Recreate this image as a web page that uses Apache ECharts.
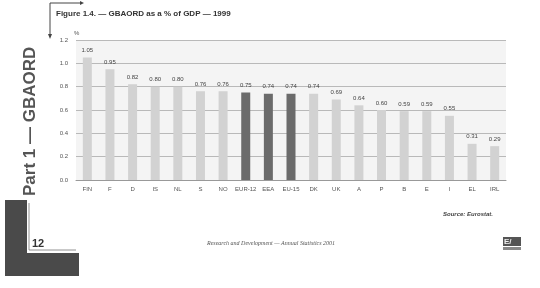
<!DOCTYPE html>
<html lang="en">
<head>
<meta charset="UTF-8">
<title>GBAORD as a % of GDP — 1999</title>
<script src="https://cdn.jsdelivr.net/npm/echarts@6/dist/echarts.min.js"></script>
<style>
  html, body { margin: 0; padding: 0; background: #fff; }
  #main { width: 540px; height: 288px; }
</style>
</head>
<body>
<div id="main"></div>
<script>
// categories and values
var countries = ['FIN', 'F', 'D', 'IS', 'NL', 'S', 'NO', 'EUR-12', 'EEA', 'EU-15',
                 'DK', 'UK', 'A', 'P', 'B', 'E', 'I', 'EL', 'IRL'];
var gbaord = [1.05, 0.95, 0.82, 0.80, 0.80, 0.76, 0.76, 0.75, 0.74, 0.74,
              0.74, 0.69, 0.64, 0.60, 0.59, 0.59, 0.55, 0.31, 0.29];
// aggregates drawn in dark grey
var aggregates = ['EUR-12', 'EEA', 'EU-15'];
var yTicks = [0, 0.2, 0.4, 0.6, 0.8, 1.0, 1.2];

var myChart = echarts.init(document.getElementById('main'));

var barData = gbaord.map(function (v, i) {
    var dark = aggregates.indexOf(countries[i]) >= 0;
    return { value: v, itemStyle: { color: dark ? '#6b6b6b' : '#d2d2d2' } };
});

var option = {
    backgroundColor: '#ffffff',
    animation: false,
    textStyle: { fontFamily: 'Liberation Sans, Arial, sans-serif' },
    grid: { left: 76, right: 34, top: 40, bottom: 108, show: true, backgroundColor: '#f4f4f4', borderWidth: 0 },
    xAxis: {
        type: 'category',
        data: countries,
        axisLine: { lineStyle: { color: '#999' } },
        axisTick: { show: false },
        axisLabel: { fontSize: 6, color: '#555', margin: 6, interval: 0 }
    },
    yAxis: {
        type: 'value',
        min: 0, max: yTicks[yTicks.length - 1], interval: 0.2,
        name: '%',
        nameGap: 4,
        nameTextStyle: { fontSize: 6, color: '#555', align: 'left', padding: [0, 0, 0, -2] },
        axisLine: { show: false },
        axisTick: { show: false },
        axisLabel: { fontSize: 6, color: '#555', margin: 8, formatter: function (v) { return v.toFixed(1); } },
        splitLine: { lineStyle: { color: '#aaa', width: 0.8 } }
    },
    series: [{
        type: 'bar',
        data: barData,
        barWidth: 9,
        label: {
            show: true, position: 'top', distance: 4,
            fontSize: 6, color: '#444',
            formatter: function (p) { return p.value.toFixed(2); }
        }
    }],
    graphic: [
        // figure title and the arrow-shaped bracket
        { type: 'text', left: 56, top: 10, style: { text: 'Figure 1.4. — GBAORD as a % of GDP — 1999', font: 'bold 8px Liberation Sans, Arial, sans-serif', fill: '#333' } },
        { type: 'polyline', shape: { points: [[50, 36], [50, 3], [80, 3]] }, style: { stroke: '#444', lineWidth: 1, fill: null } },
        { type: 'polygon', shape: { points: [[80, 1], [84, 3], [80, 5]] }, style: { fill: '#444' } },
        { type: 'polygon', shape: { points: [[48, 34], [50, 39], [52, 34]] }, style: { fill: '#444' } },
        // side heading
        { type: 'text', x: 22, y: 196, rotation: Math.PI / 2, style: { text: 'Part 1 — GBAORD', font: 'bold 17px Liberation Sans, Arial, sans-serif', fill: '#555', textVerticalAlign: 'top' } },
        // page corner block with page number
        { type: 'rect', shape: { x: 5, y: 200, width: 22, height: 76 }, style: { fill: '#4a4a4a' } },
        { type: 'rect', shape: { x: 27, y: 253, width: 52, height: 23 }, style: { fill: '#4a4a4a' } },
        { type: 'polyline', shape: { points: [[29, 203], [29, 250], [76, 250]] }, style: { stroke: '#777', lineWidth: 0.8, fill: null } },
        { type: 'text', left: 32, top: 238, style: { text: '12', font: 'bold 11px Liberation Sans, Arial, sans-serif', fill: '#333' } },
        // source and footer
        { type: 'text', left: 443, top: 211, style: { text: 'Source: Eurostat.', font: 'bold italic 6px Liberation Sans, Arial, sans-serif', fill: '#444' } },
        { type: 'text', left: 207, top: 240, style: { text: 'Research and Development — Annual Statistics 2001', font: 'italic 6px Liberation Serif, Times New Roman, serif', fill: '#555' } },
        // publisher logo
        { type: 'rect', shape: { x: 503, y: 237, width: 18, height: 9 }, style: { fill: '#555' } },
        { type: 'text', left: 504, top: 238, style: { text: 'E/', font: 'bold 8px Liberation Sans, Arial, sans-serif', fill: '#eee' } },
        { type: 'rect', shape: { x: 503, y: 247, width: 18, height: 3 }, style: { fill: '#888' } }
    ]
};

myChart.setOption(option);
</script>
</body>
</html>
